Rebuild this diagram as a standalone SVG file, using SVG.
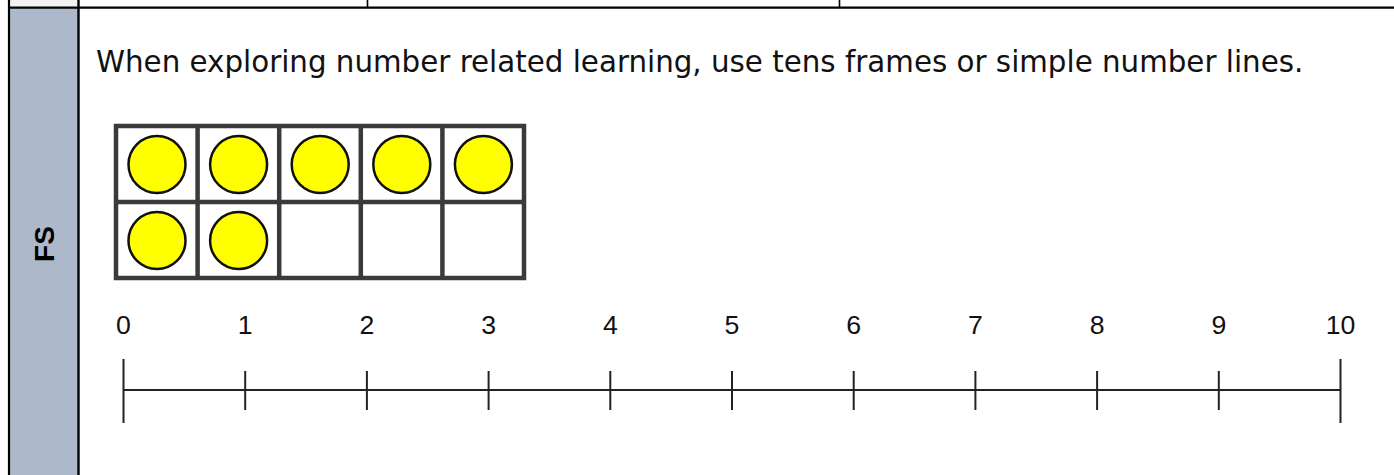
<svg xmlns="http://www.w3.org/2000/svg" width="1394" height="475" viewBox="0 0 1394 475">
  <style>
    .border { stroke: #000; fill: none; }
    .cell { fill: #fff; stroke: #3a3a3a; stroke-width: 4.5; }
    .dot { fill: #ffff00; stroke: #111; stroke-width: 2.5; }
    .axis { stroke: #222; stroke-width: 2; fill: none; }
    .num { font-family: "Liberation Sans", Arial, sans-serif; font-size: 26.67px; fill: #111; text-anchor: middle; }
    .body { font-family: "DejaVu Sans", Verdana, sans-serif; font-size: 29.33px; fill: #111; }
    .side { font-family: "Liberation Sans", Arial, sans-serif; font-size: 28px; font-weight: bold; fill: #000; text-anchor: middle; }
  </style>
  <rect width="1394" height="475" fill="#fff"/>

  <g id="table">
    <rect x="9" y="0" width="69" height="7" fill="#f2f2f2"/>
    <rect x="9" y="8" width="69" height="467" fill="#adb9ca"/>
    <line class="border" x1="8" y1="7.7" x2="1394" y2="7.7" stroke-width="2.2"/>
    <line class="border" x1="9" y1="0" x2="9" y2="475" stroke-width="2.2"/>
    <line class="border" x1="78.5" y1="0" x2="78.5" y2="475" stroke-width="2.4"/>
    <line class="border" x1="367.5" y1="0" x2="367.5" y2="7" stroke-width="1.6"/>
    <line class="border" x1="839.5" y1="0" x2="839.5" y2="7" stroke-width="1.6"/>
    <text class="side" transform="translate(53.5,244) rotate(-90)">FS</text>
  </g>

  <g id="caption">
    <text class="body" x="96" y="72">When exploring number related learning, use tens frames or simple number lines.</text>
  </g>

  <g id="tens-frame">
    <rect class="cell" x="116" y="126" width="408" height="152"/>
    <line class="cell" x1="116" y1="202" x2="524" y2="202"/>
    <line class="cell" x1="197.6" y1="126" x2="197.6" y2="278"/>
    <line class="cell" x1="279.2" y1="126" x2="279.2" y2="278"/>
    <line class="cell" x1="360.8" y1="126" x2="360.8" y2="278"/>
    <line class="cell" x1="442.4" y1="126" x2="442.4" y2="278"/>
    <circle class="dot" cx="157" cy="164.5" r="28.5"/>
    <circle class="dot" cx="238.6" cy="164.5" r="28.5"/>
    <circle class="dot" cx="320.2" cy="164.5" r="28.5"/>
    <circle class="dot" cx="401.8" cy="164.5" r="28.5"/>
    <circle class="dot" cx="483.4" cy="164.5" r="28.5"/>
    <circle class="dot" cx="157" cy="240.5" r="28.5"/>
    <circle class="dot" cx="238.6" cy="240.5" r="28.5"/>
  </g>

  <g id="number-line">
    <line class="axis" x1="123.5" y1="390" x2="1341" y2="390"/>
    <line class="axis" x1="123.5" y1="359" x2="123.5" y2="423"/>
    <line class="axis" x1="245.2" y1="371" x2="245.2" y2="410"/>
    <line class="axis" x1="366.9" y1="371" x2="366.9" y2="410"/>
    <line class="axis" x1="488.6" y1="371" x2="488.6" y2="410"/>
    <line class="axis" x1="610.3" y1="371" x2="610.3" y2="410"/>
    <line class="axis" x1="732" y1="371" x2="732" y2="410"/>
    <line class="axis" x1="853.7" y1="371" x2="853.7" y2="410"/>
    <line class="axis" x1="975.4" y1="371" x2="975.4" y2="410"/>
    <line class="axis" x1="1097.1" y1="371" x2="1097.1" y2="410"/>
    <line class="axis" x1="1218.8" y1="371" x2="1218.8" y2="410"/>
    <line class="axis" x1="1340.5" y1="359" x2="1340.5" y2="423"/>
    <text class="num" x="123.5" y="334">0</text>
    <text class="num" x="245.2" y="334">1</text>
    <text class="num" x="366.9" y="334">2</text>
    <text class="num" x="488.6" y="334">3</text>
    <text class="num" x="610.3" y="334">4</text>
    <text class="num" x="732" y="334">5</text>
    <text class="num" x="853.7" y="334">6</text>
    <text class="num" x="975.4" y="334">7</text>
    <text class="num" x="1097.1" y="334">8</text>
    <text class="num" x="1218.8" y="334">9</text>
    <text class="num" x="1340.5" y="334">10</text>
  </g>
</svg>
